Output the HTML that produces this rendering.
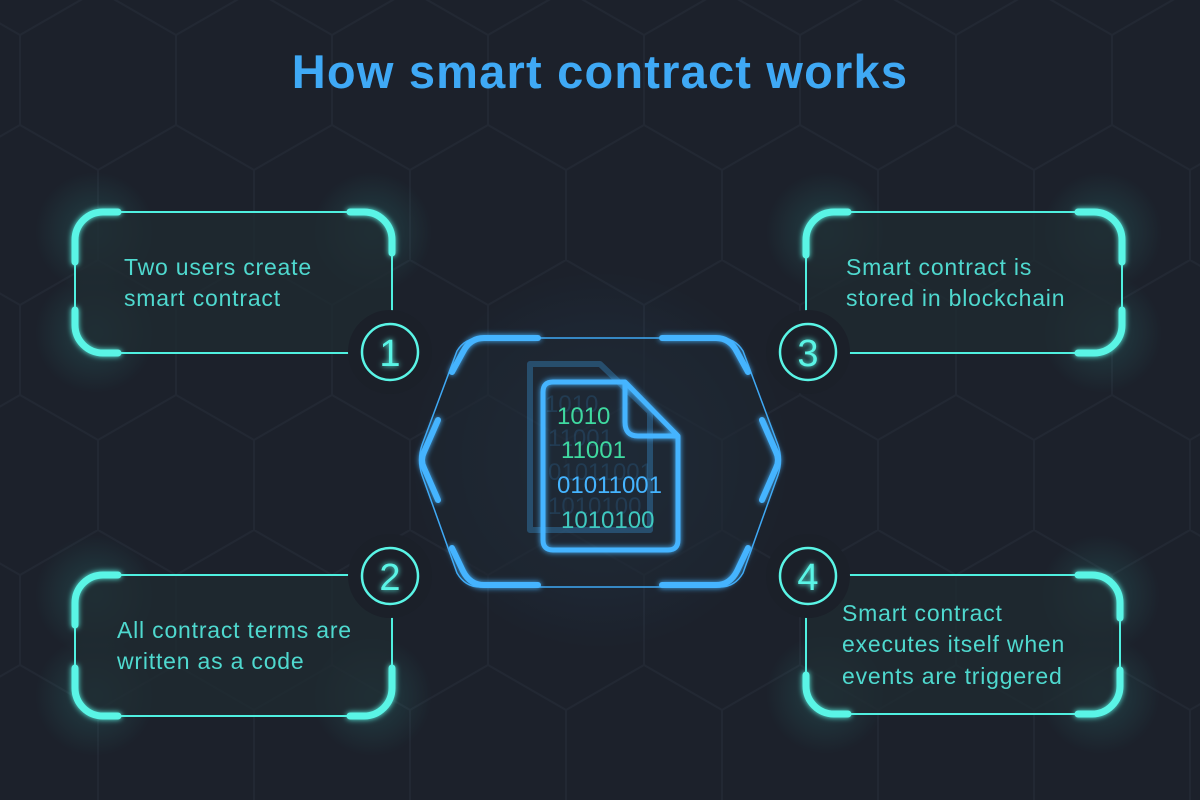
<!DOCTYPE html>
<html><head><meta charset="utf-8"><style>
html,body{margin:0;padding:0;background:#1c212b;}
svg{display:block}
</style></head><body>
<svg width="1200" height="800" viewBox="0 0 1200 800" xmlns="http://www.w3.org/2000/svg">
<defs>
<pattern id="hex" width="156" height="270" patternUnits="userSpaceOnUse" x="20" y="-10">
<path d="M78 0 L156 45 L156 135 L78 180 L0 135 L0 45 Z M78 180 L78 270 M0 135 L0 45" fill="none" stroke="#222833" stroke-width="2"/>
</pattern>
<radialGradient id="glow" r="0.5"><stop offset="0" stop-color="#3fe0d0" stop-opacity="0.16"/><stop offset="1" stop-color="#3fe0d0" stop-opacity="0"/></radialGradient>
<radialGradient id="bglow" r="0.5"><stop offset="0" stop-color="#3fa9f5" stop-opacity="0.12"/><stop offset="1" stop-color="#3fa9f5" stop-opacity="0"/></radialGradient>
<filter id="f" x="-20%" y="-20%" width="140%" height="140%"><feGaussianBlur stdDeviation="3" result="b"/><feMerge><feMergeNode in="b"/><feMergeNode in="SourceGraphic"/></feMerge></filter>
</defs>
<rect width="1200" height="800" fill="#1c212b"/>
<rect width="1200" height="800" fill="url(#hex)"/>
<text x="600" y="88" text-anchor="middle" font-family="Liberation Sans, sans-serif" font-weight="bold" font-size="47" letter-spacing="1.2" fill="#3fa9f5">How smart contract works</text>

<g>
<circle cx="95" cy="232" r="60" fill="url(#glow)"/><circle cx="372" cy="232" r="60" fill="url(#glow)"/><circle cx="95" cy="333" r="60" fill="url(#glow)"/>
<circle cx="826" cy="232" r="60" fill="url(#glow)"/><circle cx="1102" cy="232" r="60" fill="url(#glow)"/><circle cx="1102" cy="333" r="60" fill="url(#glow)"/>
<circle cx="95" cy="595" r="60" fill="url(#glow)"/><circle cx="95" cy="696" r="60" fill="url(#glow)"/><circle cx="372" cy="696" r="60" fill="url(#glow)"/>
<circle cx="1100" cy="595" r="60" fill="url(#glow)"/><circle cx="1100" cy="694" r="60" fill="url(#glow)"/><circle cx="826" cy="694" r="60" fill="url(#glow)"/>
<circle cx="600" cy="460" r="190" fill="url(#bglow)"/>
</g>

<g stroke="#4ff0e0" stroke-width="2">
<rect x="75" y="212" width="317" height="141" rx="28" fill="#1f2a31" fill-opacity="0.8"/>
<rect x="806" y="212" width="316" height="141" rx="28" fill="#1f2a31" fill-opacity="0.8"/>
<rect x="75" y="575" width="317" height="141" rx="28" fill="#1f2a31" fill-opacity="0.8"/>
<rect x="806" y="575" width="314" height="139" rx="28" fill="#1f2a31" fill-opacity="0.8"/>
</g>
<g fill="none" stroke="#5af5e6" stroke-width="7" stroke-linecap="round" filter="url(#f)">
<path d="M75 262 L75 240 A28 28 0 0 1 103 212 L118 212"/>
<path d="M350 212 L364 212 A28 28 0 0 1 392 240 L392 253"/>
<path d="M75 310 L75 325 A28 28 0 0 0 103 353 L118 353"/>
<path d="M806 255 L806 240 A28 28 0 0 1 834 212 L848 212"/>
<path d="M1078 212 L1094 212 A28 28 0 0 1 1122 240 L1122 262"/>
<path d="M1122 310 L1122 325 A28 28 0 0 1 1094 353 L1078 353"/>
<path d="M75 625 L75 603 A28 28 0 0 1 103 575 L118 575"/>
<path d="M75 668 L75 688 A28 28 0 0 0 103 716 L118 716"/>
<path d="M350 716 L364 716 A28 28 0 0 0 392 688 L392 668"/>
<path d="M1078 575 L1092 575 A28 28 0 0 1 1120 603 L1120 618"/>
<path d="M1120 670 L1120 686 A28 28 0 0 1 1092 714 L1078 714"/>
<path d="M806 675 L806 686 A28 28 0 0 0 834 714 L848 714"/>
</g>

<g font-family="Liberation Sans, sans-serif" font-size="38" text-anchor="middle" fill="#5af5e6">
<circle cx="390" cy="352" r="42" fill="#1b2029"/><circle cx="390" cy="352" r="28" fill="none" stroke="#5af5e6" stroke-width="2.5"/><text x="390" y="366" filter="url(#f)">1</text>
<circle cx="808" cy="352" r="42" fill="#1b2029"/><circle cx="808" cy="352" r="28" fill="none" stroke="#5af5e6" stroke-width="2.5"/><text x="808" y="366" filter="url(#f)">3</text>
<circle cx="390" cy="576" r="42" fill="#1b2029"/><circle cx="390" cy="576" r="28" fill="none" stroke="#5af5e6" stroke-width="2.5"/><text x="390" y="590" filter="url(#f)">2</text>
<circle cx="808" cy="576" r="42" fill="#1b2029"/><circle cx="808" cy="576" r="28" fill="none" stroke="#5af5e6" stroke-width="2.5"/><text x="808" y="590" filter="url(#f)">4</text>
</g>

<g font-family="Liberation Sans, sans-serif" font-size="23" letter-spacing="0.8" fill="#4fd9cf">
<text x="124" y="275">Two users create</text><text x="124" y="306">smart contract</text>
<text x="846" y="275">Smart contract is</text><text x="846" y="306">stored in blockchain</text>
<text x="117" y="638">All contract terms are</text><text x="117" y="669">written as a code</text>
<text x="842" y="621">Smart contract</text><text x="842" y="652">executes itself when</text><text x="842" y="684">events are triggered</text>
</g>

<path d="M480 338 L720 338 Q735 338 743 351 L778 445 Q783 460 778 475 L743 573 Q735 587 720 587 L480 587 Q465 587 457 573 L422 475 Q417 460 422 445 L457 351 Q465 338 480 338 Z" fill="#1e2631" fill-opacity="0.6" stroke="#3fa9f5" stroke-width="1.5"/>
<g fill="none" stroke="#45b4ff" stroke-width="6" stroke-linecap="round" filter="url(#f)">
<path d="M538 338 L484 338 Q470 338 463 352 L452 372"/>
<path d="M662 338 L716 338 Q730 338 737 352 L748 372"/>
<path d="M438 420 L424 452 Q420 460 424 468 L438 500"/>
<path d="M762 420 L776 452 Q780 460 776 468 L762 500"/>
<path d="M452 548 L463 571 Q470 585 484 585 L538 585"/>
<path d="M748 548 L737 571 Q730 585 716 585 L662 585"/>
</g>

<path d="M540 374 L610 374 L660 422 L660 540 L540 540 Z" transform="translate(-10,-10)" fill="none" stroke="#3fa9f5" stroke-opacity="0.3" stroke-width="6" stroke-linejoin="round"/>
<g font-family="Liberation Sans, sans-serif" font-size="24" fill="#3fa9f5" fill-opacity="0.15">
<text x="545" y="412">1010</text><text x="548" y="446">11001</text><text x="548" y="480">01011001</text><text x="548" y="514">1010100</text>
</g>
<g fill="none" stroke="#45b4ff" stroke-width="5" stroke-linejoin="round" filter="url(#f)">
<path d="M553 382 L625 382 L678 436 L678 540 Q678 550 668 550 L553 550 Q543 550 543 540 L543 392 Q543 382 553 382 Z"/>
<path d="M625 382 L625 422 Q625 436 638 436 L678 436"/>
</g>
<g font-family="Liberation Sans, sans-serif" font-size="24">
<text x="557" y="424" fill="#3fd9a0">1010</text>
<text x="561" y="458" fill="#3fd9a0">11001</text>
<text x="557" y="493" fill="#45b4ff">01011001</text>
<text x="561" y="528" fill="#3fc9c0">1010100</text>
</g>
</svg>
</body></html>
